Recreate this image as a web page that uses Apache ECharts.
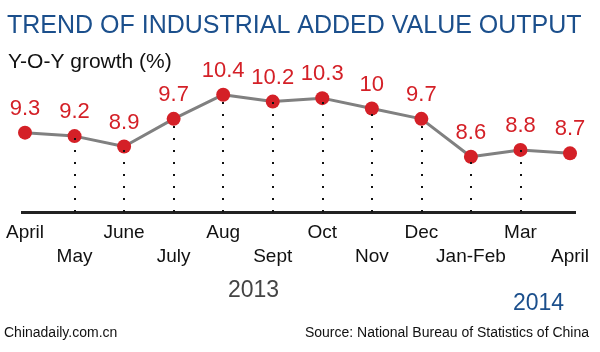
<!DOCTYPE html>
<html>
<head>
<meta charset="utf-8">
<script src="https://cdn.jsdelivr.net/npm/echarts@6/dist/echarts.min.js"></script>
<style>
  html, body { margin: 0; padding: 0; background: #fff; }
  #chart { width: 600px; height: 352px; }
</style>
</head>
<body>
<div id="chart"></div>
<script>
// data
var months = ['April', 'May', 'June', 'July', 'Aug', 'Sept', 'Oct', 'Nov', 'Dec', 'Jan-Feb', 'Mar', 'April'];
var growth = [9.3, 9.2, 8.9, 9.7, 10.4, 10.2, 10.3, 10, 9.7, 8.6, 8.8, 8.7];
var yearLabels = ['2013', '2014'];

var FONT = 'Liberation Sans, Arial, sans-serif';
var RED = '#d42027';
var BLUE = '#1b4f8c';
var Y_MIN = 7;

// dotted drop lines, not for first and last point
var drops = [];
for (var i = 1; i < growth.length - 1; i++) {
    drops.push([{ coord: [i, Y_MIN] }, { coord: [i, growth[i]] }]);
}

var option = {
    animation: false,
    title: [{
        text: 'TREND OF INDUSTRIAL ADDED VALUE OUTPUT',
        left: 2, top: 9,
        textStyle: { color: BLUE, fontSize: 25, fontWeight: 'normal', fontFamily: FONT }
    }, {
        text: 'Y-O-Y growth (%)',
        left: 3, top: 47,
        textStyle: { color: '#111', fontSize: 21, fontWeight: 'normal', fontFamily: FONT }
    }],
    grid: { left: 25, right: 30, top: 74, bottom: 140 },
    xAxis: {
        type: 'category',
        data: months,
        boundaryGap: false,
        axisLine: { show: false },
        axisTick: { show: false },
        axisLabel: {
            margin: 9,
            interval: 0,
            color: '#111',
            fontSize: 19,
            lineHeight: 24,
            fontFamily: FONT,
            formatter: function (v, idx) {
                return idx % 2 ? '\n' + v : v;
            }
        }
    },
    yAxis: {
        type: 'value',
        min: Y_MIN, max: 11,
        show: false
    },
    graphic: [
        { type: 'rect', left: 21, top: 211, shape: { width: 555, height: 3 }, style: { fill: '#222' } },
        { type: 'text', left: 228, top: 279, style: { text: yearLabels[0], fill: '#444', fontSize: 23, fontFamily: FONT } },
        { type: 'text', left: 513, top: 292, style: { text: yearLabels[1], fill: BLUE, fontSize: 23, fontFamily: FONT } },
        { type: 'text', left: 4, top: 326, style: { text: 'Chinadaily.com.cn', fill: '#111', fontSize: 14, fontFamily: FONT } },
        { type: 'text', right: 11, top: 326, style: { text: 'Source: National Bureau of Statistics of China', fill: '#111', fontSize: 14, fontFamily: FONT } }
    ],
    series: [{
        // carries only the dotted drops, drawn under the line
        type: 'line',
        data: growth,
        symbol: 'none',
        lineStyle: { opacity: 0 },
        silent: true,
        z: 1,
        markLine: {
            silent: true,
            symbol: 'none',
            label: { show: false },
            lineStyle: { color: '#111', type: [2, 10], width: 2 },
            data: drops
        }
    }, {
        type: 'line',
        data: growth,
        symbol: 'circle',
        symbolSize: 14,
        lineStyle: { color: '#808080', width: 3 },
        itemStyle: { color: RED },
        label: {
            show: true,
            position: 'top',
            distance: 6,
            color: RED,
            fontSize: 22,
            fontFamily: FONT
        },
        z: 3
    }]
};

var myChart = echarts.init(document.getElementById('chart'));
myChart.setOption(option);
</script>
</body>
</html>
